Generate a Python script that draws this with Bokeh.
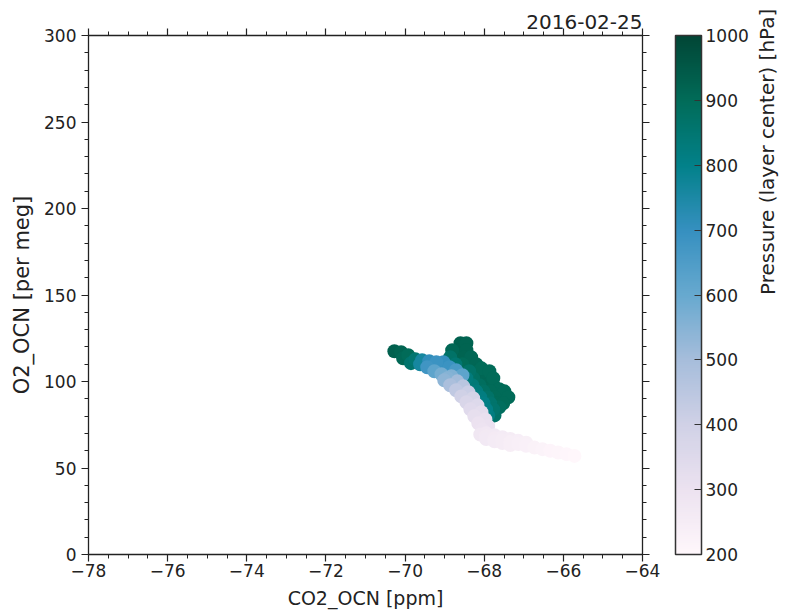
import numpy as np
from bokeh.plotting import figure
from bokeh.models import (ColumnDataSource, Range1d, LinearAxis, FixedTicker,
                          LinearColorMapper, ColorBar, Title)
from bokeh.embed import file_html
from bokeh.resources import INLINE

# ---------------- data ----------------
co2_ocn = [
    # upper-air tail (low pressure)
    -65.72, -65.92, -66.13, -66.33, -66.53, -66.73, -66.94, -67.14, -67.34, -67.54, -67.74, -67.95, -68.10,
    -66.94, -67.14, -67.34, -67.54, -67.74, -67.95,
    -67.34, -67.54, -67.74, -67.95,
    -68.05, -67.90,
    # mid-troposphere band
    -68.15, -68.25, -68.35, -68.45, -68.58, -68.71, -68.86, -69.01,
    -67.97, -68.07, -68.17, -68.28, -68.40, -68.53, -68.68, -68.83,
    # left arm
    -70.27, -70.10, -69.92, -69.74, -69.57, -69.39, -69.21, -69.03,
    -69.62, -69.44, -69.26, -69.08, -68.93,
    -68.88, -68.71, -68.55,
    -70.05, -69.85,
    # near-surface (high pressure)
    -68.60, -68.45,
    -68.81, -68.63, -68.45,
    -68.86, -68.68, -68.50, -68.33,
    -68.73, -68.55, -68.38, -68.20,
    -68.07,
    -68.38, -68.20, -68.02, -67.87,
    -68.45, -68.28, -68.10, -67.92, -67.77,
    -68.30, -68.12, -67.95, -67.77, -67.62,
    -68.20, -68.02, -67.85, -67.67, -67.49,
    -68.10, -67.92, -67.74, -67.57, -67.39,
    -68.02, -67.85, -67.67, -67.52,
    -67.95, -67.77, -67.62,
    -67.90, -67.74,
]
o2_ocn = [
    57.0, 58.0, 59.0, 60.0, 60.9, 61.8, 62.8, 63.9, 65.0, 66.1, 67.2, 68.4, 69.4,
    64.6, 65.7, 66.8, 67.8, 69.0, 70.1,
    63.3, 64.4, 65.5, 66.7,
    72.3, 74.1,
    75.8, 79.9, 83.9, 88.0, 91.4, 94.9, 97.8, 100.7,
    78.1, 82.2, 86.2, 90.3, 93.8, 97.2, 100.1, 103.0,
    117.5, 116.9, 115.2, 112.8, 112.3, 111.7, 111.1, 111.1,
    110.0, 108.2, 105.9, 104.2, 101.9,
    108.2, 106.5, 103.6,
    113.4, 110.6,
    122.1, 122.1,
    118.1, 118.1, 118.1,
    114.0, 114.0, 114.0, 114.0,
    110.0, 110.0, 110.0, 110.0,
    107.6,
    105.9, 105.9, 105.9, 105.9,
    101.9, 101.9, 101.9, 101.9, 101.9,
    97.8, 97.8, 97.8, 97.8, 95.5,
    94.3, 94.3, 94.3, 94.3, 94.3,
    90.9, 90.9, 90.9, 90.9, 90.9,
    87.4, 87.4, 87.4, 87.4,
    83.9, 83.9, 85.1,
    80.4, 80.4,
]
pressure = [
    200, 205, 210, 215, 220, 226, 232, 238, 245, 252, 260, 270, 280,
    236, 242, 250, 258, 266, 276,
    244, 250, 258, 268,
    295, 305,
    300, 320, 345, 370, 400, 440, 490, 540,
    310, 330, 355, 385, 415, 455, 505, 560,
    930, 920, 900, 850, 760, 710, 690, 700,
    760, 680, 620, 580, 550,
    690, 660, 620,
    910, 860,
    930, 920,
    910, 930, 920,
    870, 920, 920, 910,
    850, 900, 920, 910,
    900,
    870, 910, 910, 900,
    830, 880, 910, 910, 900,
    840, 890, 910, 910, 900,
    830, 880, 900, 910, 900,
    820, 870, 900, 910, 900,
    810, 860, 900, 900,
    810, 860, 890,
    820, 870,
]

x_ticks = [-78, -76, -74, -72, -70, -68, -66, -64]
x_tick_labels = ["\u221278", "\u221276", "\u221274", "\u221272", "\u221270", "\u221268", "\u221266", "\u221264"]
x_minor = [-78 + 0.5 * i for i in range(29)]
y_ticks = [0, 50, 100, 150, 200, 250, 300]
y_minor = list(range(0, 301, 10))
cbar_ticks = [200, 300, 400, 500, 600, 700, 800, 900, 1000]
date_label = "2016-02-25"

# ---------------- colour map (matplotlib PuBuGn) ----------------
pubugn = ["#fff7fb", "#ece2f0", "#d0d1e6", "#a6bddb", "#67a9cf",
          "#3690c0", "#02818a", "#016c59", "#014636"]
def _interp(cols, n):
    rgb = np.array([[int(c[i:i + 2], 16) for i in (1, 3, 5)] for c in cols], float)
    t = np.linspace(0, len(cols) - 1, n)
    out = []
    for v in t:
        i = min(int(v), len(cols) - 2)
        f = v - i
        c = rgb[i] * (1 - f) + rgb[i + 1] * f
        out.append("#%02x%02x%02x" % tuple(int(round(a)) for a in c))
    return out
palette = _interp(pubugn, 256)
mapper = LinearColorMapper(palette=palette, low=200, high=1000)

# draw high pressure first, low pressure on top
order = np.argsort(-np.array(pressure), kind="stable")
src = ColumnDataSource(dict(
    co2=[co2_ocn[i] for i in order],
    o2=[o2_ocn[i] for i in order],
    p=[pressure[i] for i in order],
))

FONT = "DejaVu Sans"
TXT = "#222222"
LINE = "#222222"

p = figure(frame_width=554, frame_height=519,
           x_range=Range1d(-78, -64), y_range=Range1d(0, 300),
           output_backend="svg", toolbar_location=None,
           min_border_left=88, min_border_top=35, min_border_bottom=62,
           min_border_right=0, background_fill_color="white",
           border_fill_color="white", outline_line_color=None)
p.grid.visible = False

p.scatter("co2", "o2", source=src, size=14, marker="circle",
          fill_color={"field": "p", "transform": mapper}, line_color=None)

def style_axis(ax, ticks, minor, labels=True):
    ax.ticker = FixedTicker(ticks=ticks, minor_ticks=minor)
    ax.axis_line_color = LINE
    ax.axis_line_width = 1.3
    ax.major_tick_line_color = LINE
    ax.minor_tick_line_color = LINE
    ax.major_tick_line_width = 1.2
    ax.minor_tick_line_width = 1
    ax.major_tick_in = 0
    ax.major_tick_out = 7
    ax.minor_tick_in = 0
    ax.minor_tick_out = 4
    ax.major_label_text_font = FONT
    ax.major_label_text_color = TXT
    ax.axis_label_text_font = FONT
    ax.axis_label_text_color = TXT
    ax.axis_label_text_font_style = "normal"
    if labels:
        ax.major_label_text_font_size = "17px"
    else:
        ax.major_label_text_font_size = "1px"
        ax.major_label_overrides = {t: "" for t in ticks}
        ax.major_label_standoff = 0

xa = p.xaxis[0]
style_axis(xa, x_ticks, x_minor)
xa.major_label_overrides = {t: l for t, l in zip(x_ticks, x_tick_labels)}
xa.axis_label = "CO2_OCN [ppm]"
xa.axis_label_text_font_size = "19px"
xa.major_label_standoff = 2
xa.axis_label_standoff = 7

ya = p.yaxis[0]
style_axis(ya, y_ticks, y_minor)
ya.axis_label = "O2_OCN [per meg]"
ya.axis_label_text_font_size = "21px"
ya.major_label_standoff = 5
ya.axis_label_standoff = 7

top = LinearAxis()
style_axis(top, x_ticks, x_minor, labels=False)
p.add_layout(top, "above")

right = LinearAxis()
style_axis(right, y_ticks, y_minor, labels=False)
p.add_layout(right, "right")

# invisible spacer between the plot frame and the colour bar
spacer = LinearAxis(ticker=FixedTicker(ticks=[150], minor_ticks=[]))
spacer.axis_line_color = None
spacer.major_tick_line_color = None
spacer.minor_tick_line_color = None
spacer.major_tick_in = 0
spacer.major_tick_out = 26
spacer.minor_tick_out = 0
spacer.major_label_text_font_size = "1px"
spacer.major_label_overrides = {150: ""}
spacer.major_label_standoff = 0
p.add_layout(spacer, "right")

cbar = ColorBar(color_mapper=mapper, ticker=FixedTicker(ticks=cbar_ticks),
                width=26, padding=0, margin=0,
                bar_line_color="#333333", bar_line_width=1.5,
                major_tick_in=7, major_tick_out=0,
                major_tick_line_color="#333333",
                minor_tick_line_color=None,
                label_standoff=4,
                major_label_text_font=FONT,
                major_label_text_font_size="17px",
                major_label_text_color=TXT,
                background_fill_color=None, border_line_color=None)
p.add_layout(cbar, "right")

lab = LinearAxis(ticker=FixedTicker(ticks=[]))
lab.axis_line_color = None
lab.major_tick_line_color = None
lab.minor_tick_line_color = None
lab.major_label_text_font_size = "1px"
lab.axis_label = "Pressure (layer center) [hPa]"
lab.axis_label_text_font = FONT
lab.axis_label_text_font_size = "20px"
lab.axis_label_text_font_style = "normal"
lab.axis_label_text_color = TXT
lab.axis_label_standoff = 16
lab.axis_label_orientation = 1.5708
p.add_layout(lab, "right")

p.add_layout(Title(text=date_label, align="right", text_font=FONT,
                   text_font_size="20px", text_font_style="normal",
                   text_color=TXT, standoff=0, offset=0), "above")

open("out.html", "w").write(file_html(p, INLINE))
